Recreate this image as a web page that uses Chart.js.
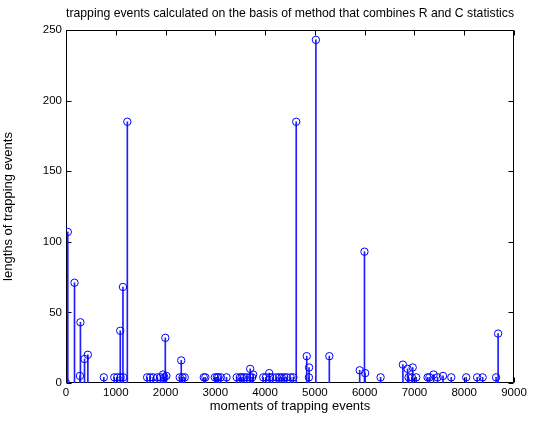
<!DOCTYPE html>
<html>
<head>
<meta charset="utf-8">
<script src="https://cdn.jsdelivr.net/npm/chart.js@4.4.0/dist/chart.umd.min.js"></script>
<style>
    html, body { margin: 0; padding: 0; background: #fff; }
    #wrap { width: 549px; height: 423px; }
</style>
</head>
<body>
<div id="wrap"><canvas id="stemChart"></canvas></div>
<script>
// moments of trapping events (x) and their lengths (y)
const eventMoments = [
    0, 36, 171, 280, 290, 372, 439, 760, 970, 1030, 1090, 1097, 1144, 1150, 1232,
    1630, 1690, 1750, 1836, 1900, 1950, 1975, 1995, 2017, 2285, 2315, 2340, 2386,
    2768, 2800, 2990, 3030, 3060, 3111, 3225, 3430, 3493, 3530, 3575, 3630, 3695,
    3700, 3740, 3760, 3963, 4017, 4083, 4097, 4151, 4231, 4285, 4332, 4385, 4432,
    4513, 4566, 4625, 4836, 4880, 4883, 5020, 5290, 5900, 5996, 6010, 6320, 6768,
    6862, 6882, 6950, 6965, 7036, 7264, 7300, 7385, 7465, 7574, 7740, 8040, 8260,
    8370, 8640, 8681
];
const eventLengths = [
    0, 107, 71, 5, 43, 17, 20, 4, 4, 4, 37, 4, 68, 4, 185,
    4, 4, 4, 4, 4, 6, 4, 32, 5, 4, 16, 4, 4,
    4, 4, 4, 4, 4, 4, 4, 4, 4, 4, 4, 4, 4,
    10, 4, 6, 4, 4, 7, 4, 4, 4, 4, 4, 4, 4,
    4, 4, 185, 19, 4, 11, 243, 19, 9, 93, 7, 4, 13,
    10, 4, 4, 11, 4, 4, 4, 6, 4, 5, 4, 4, 4,
    4, 4, 35
];
const xTickValues = [0, 1000, 2000, 3000, 4000, 5000, 6000, 7000, 8000, 9000];
const yTickValues = [0, 50, 100, 150, 200, 250];

const points = eventMoments.map((m, i) => ({ x: m, y: eventLengths[i] }));
const fontFamily = '"Liberation Sans", Arial, sans-serif';

// MATLAB style box with inward ticks on all four sides
const matlabBox = {
    id: 'matlabBox',
    beforeDatasetsDraw(chart) {
        const { ctx, chartArea: a, scales } = chart;
        const l = Math.round(a.left) + 0.5, r = Math.round(a.right) - 0.5;
        const t = Math.round(a.top) + 0.5, b = Math.round(a.bottom) - 0.5;
        ctx.save();
        ctx.strokeStyle = '#000';
        ctx.lineWidth = 1;
        ctx.beginPath();
        ctx.rect(l, t, r - l, b - t);
        xTickValues.forEach(v => {
            const px = Math.round(scales.x.getPixelForValue(v)) + 0.5;
            ctx.moveTo(px, b); ctx.lineTo(px, b - 5);
            ctx.moveTo(px, t); ctx.lineTo(px, t + 5);
        });
        yTickValues.forEach(v => {
            const py = Math.round(scales.y.getPixelForValue(v)) + 0.5;
            ctx.moveTo(l, py); ctx.lineTo(l + 5, py);
            ctx.moveTo(r, py); ctx.lineTo(r - 5, py);
        });
        ctx.stroke();
        ctx.restore();
    }
};

new Chart(document.getElementById('stemChart'), {
    type: 'bar',
    data: {
        datasets: [{
            type: 'bar',
            data: points,
            backgroundColor: 'rgb(30,30,255)',
            borderWidth: 0,
            barThickness: 1,
            order: 1
        }, {
            type: 'scatter',
            data: points,
            showLine: false,
            pointStyle: 'circle',
            pointRadius: 3.7,
            pointBorderWidth: 1,
            pointBorderColor: 'rgb(0,0,255)',
            pointBackgroundColor: 'rgba(0,0,0,0)',
            order: 0
        }]
    },
    options: {
        responsive: true,
        maintainAspectRatio: false,
        animation: false,
        layout: { padding: { left: 0, right: 35, top: 0, bottom: 0 } },
        plugins: {
            legend: { display: false },
            tooltip: { enabled: false },
            title: {
                display: true,
                fullSize: false,
                text: 'trapping events calculated on the basis of method that combines R and C statistics',
                color: '#000',
                font: { family: fontFamily, size: 12.7, weight: 'normal' },
                padding: { top: 5.4, bottom: 9.36 }
            }
        },
        scales: {
            x: {
                type: 'linear',
                min: 0,
                max: 9000,
                offset: false,
                grid: { display: false, drawTicks: false },
                border: { display: false },
                afterBuildTicks: scale => { scale.ticks = xTickValues.map(v => ({ value: v })); },
                afterFit: scale => { scale.height = 40; },
                ticks: {
                    color: '#000',
                    padding: 3,
                    maxRotation: 0,
                    callback: v => String(v),
                    font: { family: fontFamily, size: 11.5 }
                },
                title: {
                    display: true,
                    text: 'moments of trapping events',
                    color: '#000',
                    font: { family: fontFamily, size: 13 },
                    padding: { top: 0, bottom: 9.2 }
                }
            },
            y: {
                min: 0,
                max: 250,
                grid: { display: false, drawTicks: false },
                border: { display: false },
                afterBuildTicks: scale => { scale.ticks = yTickValues.map(v => ({ value: v })); },
                afterFit: scale => { scale.width = 66; },
                ticks: {
                    color: '#000',
                    padding: 4,
                    callback: v => String(v),
                    font: { family: fontFamily, size: 11.5 }
                },
                title: {
                    display: true,
                    text: 'lengths of trapping events',
                    color: '#000',
                    font: { family: fontFamily, size: 13 },
                    padding: { top: 0.5, bottom: 0 }
                }
            }
        }
    },
    plugins: [matlabBox]
});
</script>
</body>
</html>
